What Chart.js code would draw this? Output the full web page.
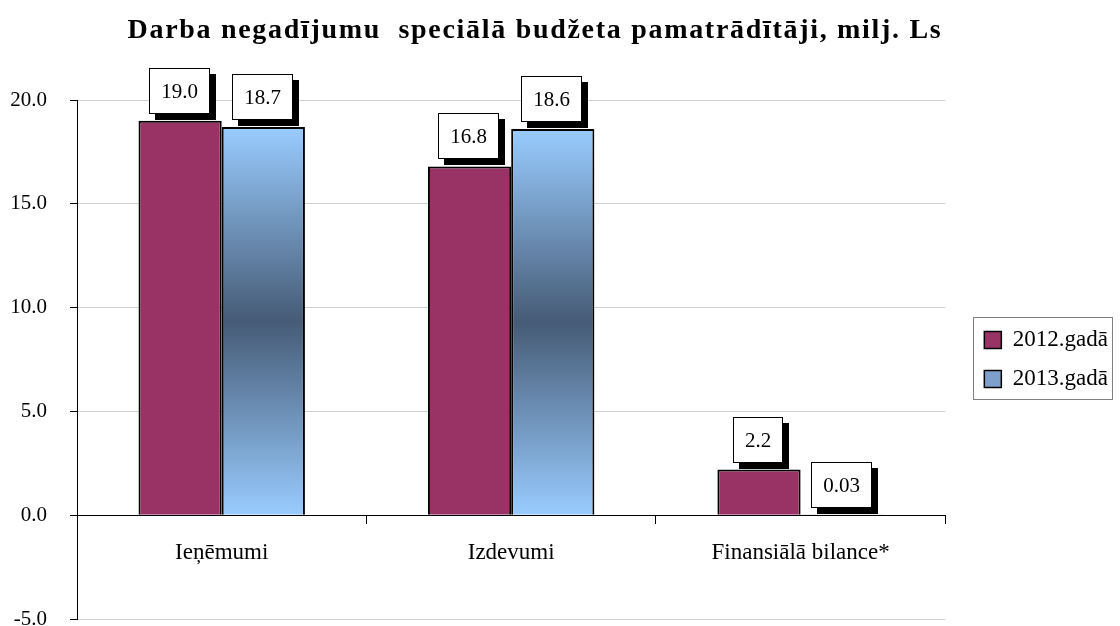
<!DOCTYPE html>
<html>
<head>
<meta charset="utf-8">
<script src="https://cdn.jsdelivr.net/npm/chart.js@4.4.1/dist/chart.umd.min.js"></script>
<style>
  html, body { margin: 0; padding: 0; background: #fff; }
  #wrap { position: relative; width: 1120px; height: 626px; }
  #chart { position: absolute; left: 0; top: 0; }
  #title {
    position: absolute; left: 0; top: 13px; width: 1070px;
    text-align: center; line-height: 30px; color: #000; letter-spacing: 1.7px;
    font: bold 28px "Liberation Serif", "Times New Roman", serif;
  }
</style>
</head>
<body>
<div id="wrap">
  <canvas id="chart" width="1120" height="626"></canvas>
  <div id="title">Darba negadījumu&nbsp; speciālā budžeta pamatrādītāji, milj. Ls</div>
</div>
<script>
var categories = ["Ieņēmumi", "Izdevumi", "Finansiālā bilance*"];
var seriesNames = ["2012.gadā", "2013.gadā"];
var values2012 = [19.0, 16.8, 2.2];
var values2013 = [18.7, 18.6, 0.03];
var yMin = -5, yMax = 20, yStep = 5;

var SERIF = "'Liberation Serif', 'Times New Roman', serif";
var MAROON = "#993366";
var LIGHT_BLUE = "#99ccff";
var DARK_BLUE = "#465b76";

function formatValue(v) {
  return v < 0.1 ? v.toFixed(2) : v.toFixed(1);
}

// vertical light-dark-light fill, one gradient per bar
function blueFill(ctx) {
  var chart = ctx.chart;
  if (!chart.chartArea || ctx.dataIndex === undefined) return "#7d9fc9";
  var y = chart.scales.y;
  var top = y.getPixelForValue(values2013[ctx.dataIndex]);
  var base = y.getPixelForValue(0);
  if (base - top < 3) return LIGHT_BLUE;
  var g = chart.ctx.createLinearGradient(0, top, 0, base);
  g.addColorStop(0, LIGHT_BLUE);
  g.addColorStop(0.5, DARK_BLUE);
  g.addColorStop(1, LIGHT_BLUE);
  return g;
}

// white value boxes with a black drop shadow above each bar
var boxLabels = {
  id: "boxLabels",
  afterDatasetsDraw: function (chart) {
    var c = chart.ctx;
    c.save();
    c.font = "21px " + SERIF;
    c.textAlign = "center";
    c.textBaseline = "middle";
    chart.data.datasets.forEach(function (ds, di) {
      chart.getDatasetMeta(di).data.forEach(function (bar, i) {
        var text = formatValue(ds.data[i]);
        var w = Math.round(c.measureText(text).width + 24), h = 46;
        var x = Math.round(bar.x - w / 2 - 1), y = Math.round(bar.y - 7 - h);
        c.fillStyle = "#000";
        c.fillRect(x + 6, y + 6, w, h);
        c.fillStyle = "#fff";
        c.fillRect(x, y, w, h);
        c.strokeStyle = "#000";
        c.lineWidth = 1;
        c.strokeRect(x + 0.5, y + 0.5, w - 1, h - 1);
        c.fillStyle = "#000";
        c.fillText(text, x + w / 2, y + h / 2 + 1);
      });
    });
    c.restore();
  }
};

// legend sits a bit further from the plot than its own padding allows:
// widen the legend box and push its items to the right
var LEGEND_EXTRA = 17, LEGEND_SHIFT = 23;
var legendSpacing = {
  id: "legendSpacing",
  beforeUpdate: function (chart) {
    var legend = chart.legend;
    if (!legend || legend._widened) return;
    var fit = legend.fit;
    legend.fit = function () {
      fit.apply(this, arguments);
      this.width += LEGEND_EXTRA;
    };
    legend._widened = true;
  },
  afterLayout: function (chart) {
    if (chart.legend) chart.legend.left += LEGEND_SHIFT;
  }
};

// thin frame around the legend
var legendFrame = {
  id: "legendFrame",
  afterDraw: function (chart) {
    var boxes = chart.legend && chart.legend.legendHitBoxes;
    if (!boxes || !boxes.length) return;
    var l = Infinity, t = Infinity, r = -Infinity, b = -Infinity;
    boxes.forEach(function (hb) {
      l = Math.min(l, hb.left); t = Math.min(t, hb.top);
      r = Math.max(r, hb.left + hb.width); b = Math.max(b, hb.top + hb.height);
    });
    var c = chart.ctx;
    c.save();
    c.strokeStyle = "#808080";
    c.lineWidth = 1;
    c.strokeRect(Math.round(l - 11) + 0.5, Math.round(t - 12) + 0.5, Math.round(r - l + 15), Math.round(b - t + 20));
    c.restore();
  }
};

new Chart(document.getElementById("chart").getContext("2d"), {
  type: "bar",
  data: {
    labels: categories,
    datasets: [
      {
        label: seriesNames[0],
        data: values2012,
        backgroundColor: MAROON,
        borderColor: "#000",
        borderWidth: 2,
        categoryPercentage: 0.575,
        barPercentage: 1
      },
      {
        label: seriesNames[1],
        data: values2013,
        backgroundColor: blueFill,
        borderColor: "#000",
        borderWidth: 2,
        categoryPercentage: 0.575,
        barPercentage: 1
      }
    ]
  },
  options: {
    responsive: false,
    animation: false,
    layout: { padding: { top: 100, bottom: 7, left: 0, right: 8 } },
    plugins: {
      title: { display: false },
      tooltip: { enabled: false },
      legend: {
        position: "right",
        labels: {
          color: "#000",
          font: { family: SERIF, size: 23 },
          boxWidth: 17,
          boxHeight: 17,
          padding: 16,
          generateLabels: function () {
            return seriesNames.map(function (name, i) {
              return {
                text: name,
                fillStyle: i === 0 ? MAROON : "#7d9fc9",
                strokeStyle: "#000",
                lineWidth: 1.5,
                fontColor: "#000",
                datasetIndex: i,
                hidden: false
              };
            });
          }
        }
      }
    },
    scales: {
      x: {
        position: { y: 0 },
        afterFit: function (s) { s.height = 0; s.paddingBottom = 0; s.paddingTop = 0; },
        grid: {
          offset: true,
          drawOnChartArea: false,
          drawTicks: true,
          tickLength: 8,
          tickColor: "#000"
        },
        border: { color: "#000", width: 1 },
        ticks: { color: "#000", font: { family: SERIF, size: 23 }, padding: 16 }
      },
      y: {
        min: yMin,
        max: yMax,
        // fixed axis width; tick padding must not eat into the plot height
        afterFit: function (s) { s.width = 77; s.paddingTop = 0; s.paddingBottom = 0; },
        grid: {
          color: function (ctx) { return ctx.tick && ctx.tick.value === 0 ? "#000" : "#cfcfcf"; },
          tickColor: "#000",
          tickLength: 7
        },
        border: { color: "#000", width: 1 },
        ticks: {
          stepSize: yStep,
          color: "#000",
          padding: 23,
          font: { family: SERIF, size: 21 },
          callback: function (v) { return v.toFixed(1); }
        }
      }
    }
  },
  plugins: [legendSpacing, boxLabels, legendFrame]
});
</script>
</body>
</html>
